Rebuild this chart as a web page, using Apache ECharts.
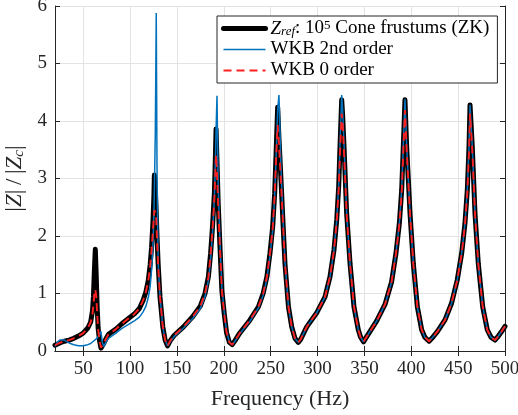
<!DOCTYPE html>
<html>
<head>
<meta charset="utf-8">
<script src="https://cdn.jsdelivr.net/npm/echarts@6/dist/echarts.min.js"></script>
<style>html,body{margin:0;padding:0;background:#fff}#c{width:518px;height:415px}</style>
</head>
<body>
<div id="c"></div>
<script>
// Frequency (Hz)
const freq = [
  20,22,25,27,30,35,40,45,50,55,58,60,61,62,63,64,65,66,67.5,69,70.5,72,74,77,
  85,91,98,105,110,114,117,119.5,121.5,123,124.5,125.5,126,127,128,128.8,130,132,135,137.5,140,
  143,147,157,167,175,180,183.6,186,188,190,191,191.8,192.8,194,196,198,200.5,203,206,209,
  212,217,228,237,242,246,249.3,252.2,254.3,255.7,257.5,258.9,261,263,265.3,269,272.5,276,279.5,
  282,288.5,299,308,313.3,317.6,320.5,322.6,324,325.8,326.8,328.3,331.1,334.7,338.9,343.5,346,349,
  352.5,363,372,379,383.7,387.3,389.8,391.5,393.3,395.1,398.7,402.2,406.5,411.1,414.5,419,
  422,428,436,443,449,453.8,457.3,459.8,461.6,462.7,465.1,468,471.5,476.2,481.1,485,489.3,492,496,500
];
// Z_ref : 10^5 cone frustums (ZK)
const zRef = [
  0.10,0.12,0.14,0.15,0.17,0.19,0.22,0.26,0.31,0.40,0.50,0.70,0.95,1.40,1.77,1.30,0.75,0.40,0.18,0.05,0.07,0.13,0.20,0.29,
  0.38,0.47,0.56,0.65,0.74,0.88,1.03,1.23,1.50,1.80,2.25,2.70,3.06,2.80,2.40,2.00,1.52,0.94,0.42,0.19,0.09,
  0.18,0.27,0.42,0.60,0.78,1.00,1.29,1.70,2.16,2.74,3.32,3.86,3.30,2.60,1.80,1.05,0.65,0.32,0.15,0.11,
  0.18,0.31,0.54,0.77,1.00,1.29,1.70,2.16,2.74,3.38,4.24,3.70,3.00,2.30,1.52,0.77,0.42,0.22,0.15,
  0.20,0.42,0.66,0.94,1.29,1.76,2.28,2.86,3.55,4.37,4.10,3.55,2.39,1.52,0.77,0.37,0.24,0.16,
  0.25,0.52,0.81,1.20,1.70,2.22,2.80,3.55,4.37,3.55,2.39,1.52,0.77,0.37,0.24,0.17,
  0.22,0.34,0.54,0.83,1.23,1.70,2.22,2.80,3.55,4.28,3.55,2.39,1.52,0.77,0.37,0.24,0.19,0.24,0.33,0.43
];
// WKB 2nd order
const wkb2 = [
  0.08,0.14,0.19,0.20,0.19,0.14,0.11,0.09,0.09,0.11,0.13,0.15,0.17,0.19,0.20,0.21,0.23,0.25,0.29,0.34,0.15,0.08,0.14,0.22,
  0.31,0.39,0.46,0.53,0.59,0.68,0.78,0.93,1.12,1.40,1.85,2.40,2.80,3.80,5.88,3.20,1.55,0.95,0.42,0.19,0.09,
  0.16,0.25,0.40,0.57,0.74,0.95,1.22,1.60,2.05,2.65,3.25,3.85,4.44,2.90,1.90,1.10,0.68,0.34,0.16,0.11,
  0.17,0.30,0.52,0.75,0.97,1.25,1.65,2.10,2.68,3.30,4.20,4.45,3.20,2.40,1.55,0.78,0.42,0.22,0.15,
  0.20,0.42,0.66,0.94,1.29,1.76,2.28,2.88,3.60,4.45,4.20,3.60,2.40,1.52,0.77,0.37,0.24,0.16,
  0.25,0.52,0.81,1.20,1.70,2.22,2.82,3.57,4.38,3.57,2.40,1.52,0.77,0.37,0.24,0.17,
  0.22,0.34,0.54,0.83,1.23,1.70,2.22,2.80,3.55,4.28,3.55,2.39,1.52,0.77,0.37,0.24,0.19,0.24,0.33,0.43
];
// WKB 0 order
const wkb0 = [
  0.10,0.12,0.14,0.15,0.17,0.19,0.22,0.26,0.31,0.40,0.50,0.65,0.80,1.00,1.07,0.95,0.65,0.38,0.18,0.06,0.07,0.13,0.20,0.29,
  0.38,0.47,0.56,0.65,0.74,0.88,1.03,1.22,1.48,1.75,2.10,2.35,2.45,2.40,2.30,1.95,1.50,0.94,0.42,0.19,0.09,
  0.18,0.27,0.42,0.60,0.78,1.00,1.28,1.68,2.12,2.65,3.10,3.41,3.10,2.55,1.78,1.05,0.65,0.32,0.15,0.11,
  0.18,0.31,0.54,0.77,1.00,1.29,1.69,2.14,2.70,3.30,3.93,3.60,2.95,2.28,1.52,0.77,0.42,0.22,0.15,
  0.20,0.42,0.66,0.94,1.29,1.75,2.25,2.80,3.45,4.13,3.95,3.45,2.38,1.52,0.77,0.37,0.24,0.16,
  0.25,0.52,0.81,1.20,1.69,2.20,2.75,3.45,4.19,3.50,2.38,1.52,0.77,0.37,0.24,0.17,
  0.22,0.34,0.54,0.83,1.23,1.69,2.20,2.75,3.45,4.13,3.50,2.38,1.52,0.77,0.37,0.24,0.19,0.24,0.33,0.43
];
const xTicks = [50,100,150,200,250,300,350,400,450,500];
const yTicks = [0,1,2,3,4,5,6];
const seriesNames = ['Zref','WKB 2nd order','WKB 0 order'];

const FONT = 'Liberation Serif';
const AX = '#262626';
const GRID = '#e3e3e3';

const pairs = arr => freq.map((f,i)=>[f, arr[i]]);

const chart = echarts.init(document.getElementById('c'), null, {renderer:'canvas'});

const xBase = {
  type:'value', min:20, max:500,
  axisLine:{show:true, lineStyle:{color:AX, width:1}},
  axisTick:{show:true, inside:true, length:5, customValues:xTicks, lineStyle:{color:AX}},
  splitLine:{show:false},
  axisLabel:{show:false, customValues:xTicks}
};
const yBase = {
  type:'value', min:0, max:6, interval:1,
  axisLine:{show:true, lineStyle:{color:AX, width:1}},
  axisTick:{show:true, inside:true, length:5, lineStyle:{color:AX}},
  splitLine:{show:false},
  axisLabel:{show:false}
};

chart.setOption({
  animation:false,
  backgroundColor:'#fff',
  grid:{left:55, right:13, top:6, bottom:64, containLabel:false, outerBoundsMode:'none'},
  xAxis:[
    Object.assign({}, xBase, {
      position:'bottom',
      name:'Frequency (Hz)', nameLocation:'middle', nameGap:37,
      nameTextStyle:{fontFamily:FONT, fontSize:22, color:AX},
      splitLine:{show:true, customValues:xTicks, lineStyle:{color:GRID, width:1}},
      axisLabel:{show:true, customValues:xTicks, margin:9, fontFamily:FONT, fontSize:19, color:AX}
    }),
    Object.assign({}, xBase, {position:'top'})
  ],
  yAxis:[
    Object.assign({}, yBase, {
      position:'left',
      name:'{n||}{zi|Z}{n||\u2009/\u2009|}{zi|Z}{sub|c}{n||}', nameLocation:'middle', nameGap:28, nameRotate:90,
      nameTextStyle:{fontFamily:FONT, fontSize:22, color:AX,
        rich:{
          n:{fontFamily:FONT, fontSize:23, color:AX, lineHeight:24, verticalAlign:'middle'},
          zi:{fontFamily:FONT, fontSize:23, fontStyle:'italic', color:AX, lineHeight:24, verticalAlign:'middle'},
          sub:{fontFamily:FONT, fontSize:15, fontStyle:'italic', color:AX, lineHeight:24, verticalAlign:'bottom', padding:[7,0,0,0]}
        }},
      splitLine:{show:true, lineStyle:{color:GRID, width:1}},
      axisLabel:{show:true, margin:8, fontFamily:FONT, fontSize:19, color:AX}
    }),
    Object.assign({}, yBase, {position:'right'})
  ],
  legend:{
    orient:'vertical', left:217, top:16,
    padding:[3,8,3,4], itemGap:2, itemWidth:42, itemHeight:14,
    backgroundColor:'#fff', borderColor:AX, borderWidth:1, borderRadius:0,
    itemStyle:{opacity:0, color:'transparent', borderWidth:0},
    data:[
      {name:seriesNames[0], lineStyle:{width:5, color:'#000'}},
      {name:seriesNames[1], lineStyle:{width:1.5, color:'#0072BD'}},
      {name:seriesNames[2], lineStyle:{width:1.9, color:'#FF2020', type:[8,5]}}
    ],
    formatter:function(name){
      if(name===seriesNames[0]) return '{zi|Z}{sub|ref}{n|: 10}{sup|5}{n| Cone frustums (ZK)}';
      return '{n|'+name+'}';
    },
    textStyle:{fontFamily:FONT, fontSize:19, color:'#000',
      rich:{
        n:{fontFamily:FONT, fontSize:19, color:'#000', lineHeight:19},
        zi:{fontFamily:FONT, fontSize:19, fontStyle:'italic', color:'#000', lineHeight:19},
        sub:{fontFamily:FONT, fontSize:13, fontStyle:'italic', color:'#000', lineHeight:19, verticalAlign:'bottom', padding:[5,0,0,0]},
        sup:{fontFamily:FONT, fontSize:13, color:'#000', lineHeight:19, verticalAlign:'top', padding:[0,0,6,0]}
      }}
  },
  series:[
    {name:seriesNames[0], type:'line', xAxisIndex:0, yAxisIndex:0, data:pairs(zRef), showSymbol:false, symbol:'none',
      lineStyle:{color:'#000', width:5, join:'round', cap:'round'}, itemStyle:{color:'#000'}, z:2},
    {name:seriesNames[1], type:'line', xAxisIndex:0, yAxisIndex:0, data:pairs(wkb2), showSymbol:false, symbol:'none',
      lineStyle:{color:'#0072BD', width:1.5}, itemStyle:{color:'#0072BD'}, z:3},
    {name:seriesNames[2], type:'line', xAxisIndex:0, yAxisIndex:0, data:pairs(wkb0), showSymbol:false, symbol:'none',
      lineStyle:{color:'#FF2020', width:1.9, type:[8,5]}, itemStyle:{color:'#FF2020'}, z:4}
  ]
});
</script>
</body>
</html>
